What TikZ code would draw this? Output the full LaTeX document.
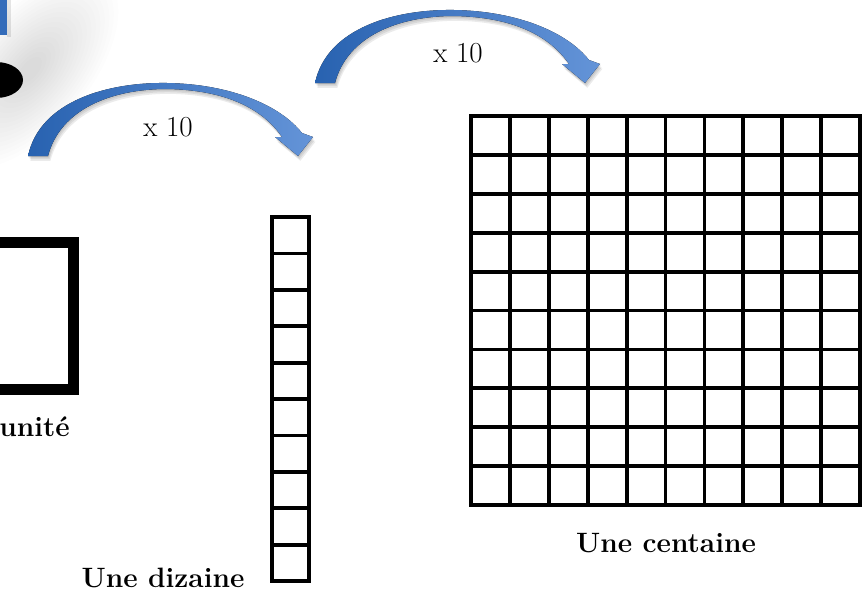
\documentclass[tikz,border=0pt]{standalone}
\definecolor{arrowdark}{RGB}{40,98,176}
\definecolor{arrowlight}{RGB}{100,148,216}
\definecolor{rectblue}{RGB}{52,108,186}
\tikzset{
  cell/.style={line width=3.8pt},
  lbl/.style={font=\fontsize{28}{32}\selectfont\bfseries, inner sep=0pt},
  mult/.style={font=\fontsize{29}{32}\selectfont, inner sep=0pt},
  curvearrow/.pic={
    \foreach \s in {1,2,3}
      \fill[black, opacity=0.08, shift={(\s*0.8,\s*1.6)}]
        (28,156) .. controls (40,100) and (110,82) .. (167,83)
        .. controls (230,84) and (280,105) .. (302,133)
        -- (313,137) -- (298,156) -- (275,137) -- (282,137)
        .. controls (262,108) and (225,90) .. (167,89)
        .. controls (110,89) and (60,110) .. (48,156) -- cycle;
    \fill[left color=arrowdark, right color=arrowlight]
        (28,156) .. controls (40,100) and (110,82) .. (167,83)
        .. controls (230,84) and (280,105) .. (302,133)
        -- (313,137) -- (298,156) -- (275,137) -- (282,137)
        .. controls (262,108) and (225,90) .. (167,89)
        .. controls (110,89) and (60,110) .. (48,156) -- cycle;
  }
}
\begin{document}
\begin{tikzpicture}[x=1pt,y=-1pt]
\useasboundingbox (0,0) rectangle (865,597);
\clip (0,0) rectangle (865,597);
\fill[white] (0,0) rectangle (865,597);
% soft grey shadow at top left
\foreach \r in {1,...,18}
  \fill[black, opacity=0.009, rotate around={50:(30,70)}] (30,70) ellipse ({10+\r*6} and {5+\r*3});
% blue fragment and black blob
\fill[black, opacity=0.10] (7,0) rectangle (11,37);
\fill[rectblue] (0,0) rectangle (7,35);
\fill[black] (-4,80) ellipse (27 and 18);
% arrows
\pic at (0,0) {curvearrow};
\pic at (287,-73) {curvearrow};
\node[mult] (m1) at (168,127) {x 10};
\node[mult] (m2) at (458,53) {x 10};
% unit square
\draw[line width=11pt] (-74,242) rectangle (73,389);
\node[lbl, anchor=base east] (unite) at (70,436) {unité};
% dizaine
\draw[cell] (272,217) rectangle (309,581);
\foreach \i in {1,...,9}
  \draw[cell] (272,217+\i*36.4) -- (309,217+\i*36.4);
\node[lbl, anchor=base] (diz) at (163,587) {Une dizaine};
% centaine
\draw[cell] (471,116) rectangle (860,505);
\foreach \i in {1,...,9} {
  \draw[cell] (471+\i*38.9,116) -- (471+\i*38.9,505);
  \draw[cell] (471,116+\i*38.9) -- (860,116+\i*38.9);
}
\node[lbl, anchor=base] (cent) at (666,552) {Une centaine};
\end{tikzpicture}
\end{document}
